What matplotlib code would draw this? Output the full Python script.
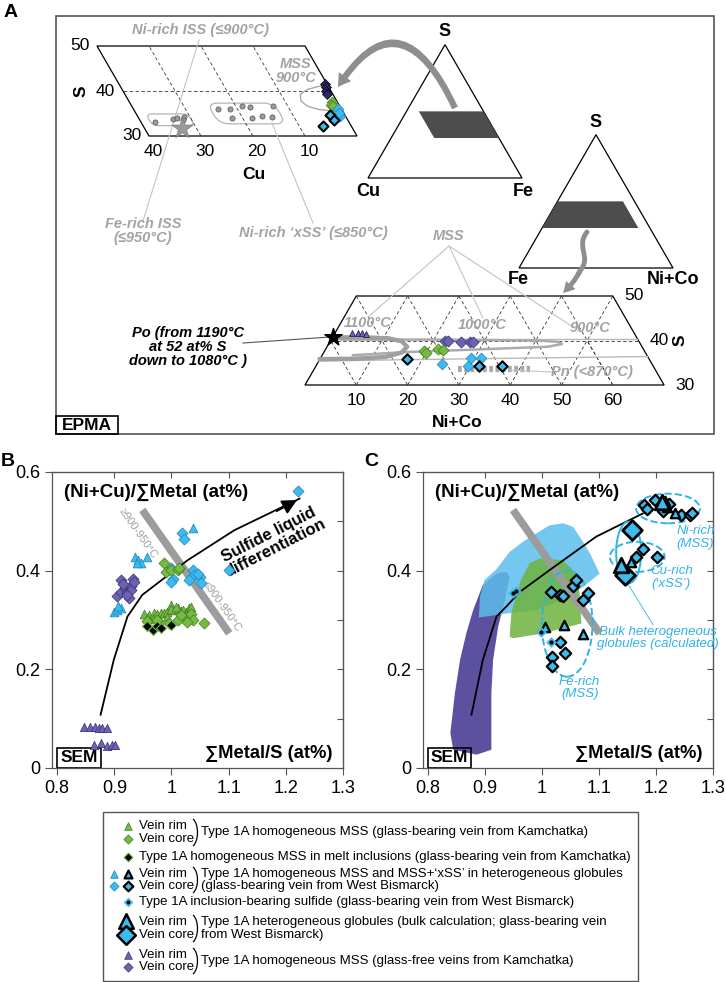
import numpy as np
import matplotlib.pyplot as plt
from matplotlib.transforms import Affine2D
from matplotlib.patches import Polygon, Ellipse, FancyArrowPatch, Rectangle, PathPatch, FancyBboxPatch
from matplotlib.path import Path

plt.rcParams['font.family'] = ['Liberation Sans', 'DejaVu Sans']

# colours
GREEN, GREEN_E = '#76b943', '#3d7d21'
CYAN, CYAN_E = '#3dbaee', '#1b84bd'
PURP, PURP_E = '#6c63ae', '#36307c'
NAVY = '#2a2566'
LBL = '#a3a3a3'
FBLUE = '#2fb3e8'

# ---------------- panel A data (at%) ----------------
# Cu-Fe-S section: Cu, S
iss_cu = [37.2, 33.4, 32.7, 31.1, 31.7]
iss_s = [33.2, 33.8, 33.9, 34.2, 33.6]
iss_star_cu = [32.9]
iss_star_s = [31.7]
xss_cu = [23.7, 21.5, 18.7, 17.4, 12.9, 22.1, 18.2, 16.1, 14.3]
xss_s = [36.0, 35.9, 36.7, 36.4, 36.7, 33.9, 33.9, 34.5, 34.2]
mss900_cu = [0.0, 2.0, 4.5, 6.3, 6.9, 6.2, 4.4, 2.2]
mss900_s = [41.2, 41.0, 40.3, 39.2, 37.8, 36.6, 35.9, 35.6]
a1_navy_cu = [0.3, 0.6, 0.9, 1.2]
a1_navy_s = [41.6, 40.9, 40.1, 39.3]
a1_green_cu = [1.1, 1.5, 1.3]
a1_green_s = [37.6, 37.0, 36.6]
a1_cyan_cu = [0.7, 1.1, 0.9]
a1_cyan_s = [35.9, 34.4, 35.2]
a1_cyanb_cu = [2.8, 2.7, 5.4]
a1_cyanb_s = [34.7, 33.6, 32.2]

# Fe-(Ni+Co)-S section: Ni+Co, S
po_n, po_s = [0.0], [40.8]
a2_navy_n = [3.3, 4.5, 5.3, 6.2]
a2_navy_s = [41.6, 41.7, 41.6, 41.4]
a2_purp_n = [22.3, 22.9, 25.7, 27.4, 27.9]
a2_purp_s = [39.95, 39.95, 39.6, 39.6, 39.6]
a2_green_n = [19.4, 19.9, 21.9, 23.0]
a2_green_s = [37.7, 37.3, 38.2, 37.9]
a2_cyan_n = [24.3, 29.3, 31.3, 29.7]
a2_cyan_s = [34.7, 36.0, 36.0, 34.3]
a2_cyanb_n = [16.9, 31.8, 36.2]
a2_cyanb_s = [35.8, 34.3, 34.3]
pn_n, pn_s = [28.1, 42.1], [33.6, 33.6]
mss1100_n = [0, 6, 11, 14, 15.6, 15.2, 12.5, 7, 0]
mss1100_s = [40.7, 40.7, 40.5, 39.8, 38.6, 37.3, 36.3, 35.9, 35.8]
mss1000_n = [2, 20, 40, 44.5, 45.5, 43, 30, 16, 6]
mss1000_s = [40.2, 40.2, 40.0, 39.7, 39.2, 38.6, 38.0, 37.4, 36.7]
mss900b_n = [0, 30, 59.6]
mss900b_s = [40.4, 40.4, 40.4]
mss900c_n = [0, 30, 63.6]
mss900c_s = [35.4, 35.9, 36.4]

# ---------------- panel B data ----------------
gf_rim_x = [0.847, 0.857, 0.867, 0.873, 0.879, 0.887, 0.864, 0.876, 0.888, 0.896, 0.902]
gf_rim_y = [0.084, 0.084, 0.083, 0.081, 0.082, 0.081, 0.047, 0.051, 0.044, 0.047, 0.047]
gf_core_x = [0.911, 0.932, 0.905, 0.912, 0.918, 0.923, 0.929, 0.926, 0.930, 0.922, 0.935, 0.915]
gf_core_y = [0.381, 0.384, 0.349, 0.357, 0.364, 0.355, 0.369, 0.344, 0.361, 0.351, 0.378, 0.372]
wb_rim_x = [0.899, 0.905, 0.911, 0.906, 0.937, 0.942, 0.946, 0.958, 0.939, 1.037]
wb_rim_y = [0.317, 0.320, 0.324, 0.328, 0.428, 0.421, 0.415, 0.427, 0.415, 0.486]
wb_core_x = [1.019, 1.022, 0.999, 1.002, 0.999, 1.037, 1.040, 1.049, 1.051, 1.031, 1.046, 1.101, 1.221]
wb_core_y = [0.477, 0.464, 0.405, 0.384, 0.378, 0.401, 0.391, 0.388, 0.374, 0.381, 0.393, 0.401, 0.562]
kam_rim_x = [0.952, 0.961, 0.970, 0.975, 0.981, 0.987, 0.993, 0.999, 1.005, 1.011, 1.016,
             1.021, 1.025, 1.031, 1.034, 0.967, 0.978, 0.993, 0.958, 1.000, 1.008]
kam_rim_y = [0.312, 0.310, 0.314, 0.312, 0.315, 0.315, 0.317, 0.330, 0.320, 0.324, 0.319,
             0.320, 0.317, 0.324, 0.327, 0.303, 0.301, 0.307, 0.305, 0.322, 0.326]
kam_core_x = [0.987, 0.990, 0.999, 1.011, 1.014, 1.025, 1.034, 1.037, 1.028, 1.057, 1.011,
              1.016, 0.958, 0.975, 0.996]
kam_core_y = [0.415, 0.398, 0.401, 0.401, 0.405, 0.307, 0.312, 0.300, 0.295, 0.293, 0.300,
              0.310, 0.297, 0.301, 0.293]
kam_mi_x = [0.958, 0.967, 0.975, 0.981, 0.999]
kam_mi_y = [0.287, 0.280, 0.288, 0.283, 0.289]
trend_x = [0.876, 0.899, 0.923, 0.949, 0.975, 1.028, 1.110, 1.224]
trend_y = [0.108, 0.219, 0.307, 0.351, 0.374, 0.421, 0.482, 0.546]
bar_x = [0.949, 1.101]
bar_y = [0.523, 0.273]

# ---------------- panel C data ----------------
c_trend_x = [0.876, 0.896, 0.920, 0.937, 0.961, 1.013, 1.095, 1.177]
c_trend_y = [0.108, 0.219, 0.307, 0.327, 0.357, 0.401, 0.469, 0.516]
c_core_x = [1.015, 1.031, 1.037, 1.054, 1.060, 1.072, 1.081, 1.031, 1.018, 1.018, 1.040,
            1.179, 1.185, 1.199, 1.208, 1.212, 1.222, 1.244, 1.259, 1.264, 1.178, 1.164, 1.202]
c_core_y = [0.357, 0.351, 0.349, 0.369, 0.381, 0.341, 0.354, 0.256, 0.226, 0.206, 0.233,
            0.533, 0.524, 0.544, 0.533, 0.521, 0.536, 0.512, 0.512, 0.517, 0.443, 0.428, 0.427]
c_rim_x = [1.006, 1.039, 1.072, 1.215, 1.233, 1.219, 1.156]
c_rim_y = [0.285, 0.289, 0.272, 0.541, 0.516, 0.529, 0.418]
c_incl_x = [0.998, 1.015, 0.949, 0.955]
c_incl_y = [0.275, 0.256, 0.354, 0.359]
bulk_core_x, bulk_core_y = [1.158, 1.145], [0.482, 0.391]
bulk_rim_x, bulk_rim_y = [1.139, 1.210], [0.411, 0.540]
gf_field_x = [0.839, 0.847, 0.856, 0.867, 0.879, 0.896, 0.920, 0.937, 0.943, 0.935, 0.923,
              0.914, 0.911, 0.911, 0.885, 0.844]
gf_field_y = [0.071, 0.152, 0.219, 0.273, 0.320, 0.371, 0.394, 0.398, 0.388, 0.341, 0.287,
              0.219, 0.152, 0.037, 0.027, 0.037]
wb_field_x = [0.889, 0.891, 0.899, 0.920, 0.943, 0.967, 1.013, 1.037, 1.054, 1.066, 1.084,
              1.101, 1.072, 1.037, 0.990, 0.943]
wb_field_y = [0.305, 0.347, 0.381, 0.403, 0.438, 0.459, 0.492, 0.496, 0.489, 0.469, 0.435,
              0.394, 0.367, 0.341, 0.320, 0.314]
kam_field_x = [0.943, 0.946, 0.963, 0.978, 0.996, 1.037, 1.060, 1.066, 1.069, 1.049, 1.002, 0.949]
kam_field_y = [0.266, 0.314, 0.381, 0.415, 0.425, 0.421, 0.394, 0.354, 0.293, 0.287, 0.273, 0.263]

fig = plt.figure(figsize=(7.26, 9.82), dpi=100)

# ---------- overlay in pixel units for panel A and the legend ----------
ov = fig.add_axes([0, 0, 1, 1])
ov.set_xlim(0, 726)
ov.set_ylim(982, 0)
ov.axis('off')

T1 = Affine2D(np.array([[-5.2, -2.6, 435.0], [0, -4.5, 271.0], [0, 0, 1]])) + ov.transData
T2 = Affine2D(np.array([[5.13, 2.565, 228.05], [0, -4.45, 518.5], [0, 0, 1]])) + ov.transData
TR1 = Affine2D(np.array([[1.54, 0.77, 368.0], [0, -1.333, 178.0], [0, 0, 1]])) + ov.transData
TR2 = Affine2D(np.array([[1.54, 0.77, 519.0], [0, -1.333, 268.0], [0, 0, 1]])) + ov.transData

ov.add_patch(Rectangle((56, 16), 658, 418, fill=False, ec='#555555', lw=1.2))
ov.text(4, 12, 'A', fontsize=14, fontweight='bold', va='center')
ov.text(1, 462, 'B', fontsize=14, fontweight='bold', va='center')
ov.text(364, 462, 'C', fontsize=14, fontweight='bold', va='center')
ov.add_patch(Rectangle((56, 416), 62, 18, fill=False, ec='black', lw=1.2))
ov.text(87, 426, 'EPMA', fontsize=12.5, fontweight='bold', ha='center', va='center')

# full ternaries
for T, corners, shade in [(TR1, [(0, 0), (100, 0), (0, 100)], [(8, 50), (50, 50), (70, 30), (28, 30)]),
                          (TR2, [(0, 0), (100, 0), (0, 100)], [(0, 50), (42.5, 50), (62.5, 30), (0, 30)])]:
    ov.add_patch(Polygon(corners, closed=True, fill=False, ec='black', lw=0.9, transform=T))
    ov.add_patch(Polygon(shade, closed=True, fc='#4d4d4d', ec='none', transform=T))
ov.text(445, 31, 'S', fontsize=13, fontweight='bold', ha='center', va='center')
ov.text(368, 191, 'Cu', fontsize=13, fontweight='bold', ha='center', va='center')
ov.text(523, 191, 'Fe', fontsize=13, fontweight='bold', ha='center', va='center')
ov.text(596, 122, 'S', fontsize=13, fontweight='bold', ha='center', va='center')
ov.text(518, 280, 'Fe', fontsize=13, fontweight='bold', ha='center', va='center')
ov.text(673, 280, 'Ni+Co', fontsize=13, fontweight='bold', ha='center', va='center')

# Cu-S section
ov.add_patch(Polygon([(0, 30), (40, 30), (40, 50), (0, 50)], closed=True, fill=False,
                     ec='black', lw=0.9, transform=T1))
for c in [10, 20, 30]:
    ov.plot([c, c], [30, 50], ls=(0, (4, 3)), color='#333333', lw=0.6, transform=T1)
ov.plot([0, 40], [40, 40], ls=(0, (4, 3)), color='#333333', lw=0.6, transform=T1)
for c in [10, 20, 30, 40]:
    ov.text(*T1.transform((c + 1, 26.5)), str(c), transform=None, fontsize=12.5,
            ha='center', va='center')
for s in [30, 40, 50]:
    ov.text(*T1.transform((41.5, s)), str(s), transform=None, fontsize=12.5, ha='right', va='center')
ov.text(*T1.transform((24, 21.5)), 'Cu', transform=None, fontsize=12.5, fontweight='bold',
        ha='center', va='center')
ov.text(*T1.transform((48, 40)), 'S', transform=None, fontsize=12.5, fontweight='bold',
        ha='center', va='center', rotation=90)
ov.add_patch(FancyBboxPatch((30.0, 32.3), 8.2, 2.6, boxstyle='round,pad=0,rounding_size=1.2',
                            fill=False, ec='#b5b5b5', lw=0.9, transform=T1))
ov.add_patch(FancyBboxPatch((12.3, 32.7), 12.9, 4.6, boxstyle='round,pad=0,rounding_size=2.0',
                            fill=False, ec='#b5b5b5', lw=0.9, transform=T1))
ov.plot(mss900_cu, mss900_s, color='#a8a8a8', lw=1.0, transform=T1)
ov.scatter(iss_cu, iss_s, s=14, c='#9a9a9a', ec='#555555', lw=0.5, transform=T1, zorder=3)
ov.scatter(xss_cu, xss_s, s=14, c='#9a9a9a', ec='#555555', lw=0.5, transform=T1, zorder=3)
ov.scatter(iss_star_cu, iss_star_s, s=260, marker='*', c='#9a9a9a', ec='#7a7a7a', lw=0.5,
           transform=T1, zorder=4)
ov.scatter(a1_navy_cu, a1_navy_s, s=26, marker='D', c=NAVY, ec='black', lw=0.5, transform=T1, zorder=4)
ov.scatter(a1_green_cu, a1_green_s, s=30, marker='D', c=GREEN, ec=GREEN_E, lw=0.5, transform=T1, zorder=4)
ov.scatter(a1_cyan_cu, a1_cyan_s, s=30, marker='D', c=CYAN, ec=CYAN_E, lw=0.5, transform=T1, zorder=4)
ov.scatter(a1_cyanb_cu, a1_cyanb_s, s=26, marker='D', c=CYAN, ec='black', lw=1.5, transform=T1, zorder=4)

# Fe-(Ni+Co)-S section
ov.add_patch(Polygon([(0, 30), (70, 30), (50, 50), (0, 50)], closed=True, fill=False,
                     ec='black', lw=0.9, transform=T2))
for n in range(10, 70, 10):
    ov.plot([n, min(n, 50)], [30, 30 + min(20, 70 - n)],
            ls=(0, (4, 3)), color='#333333', lw=0.6, transform=T2)
for f in range(10, 70, 10):
    top_n = max(50 - f, 0)
    ov.plot([70 - f, top_n], [30, 100 - f - top_n], ls=(0, (4, 3)), color='#333333', lw=0.6, transform=T2)
ov.plot([0, 60], [40, 40], ls=(0, (4, 3)), color='#333333', lw=0.6, transform=T2)
for n in range(10, 70, 10):
    ov.text(*T2.transform((n + 1.75, 26.5)), str(n), transform=None, fontsize=12.5,
            ha='center', va='center')
for s in [30, 40, 50]:
    ov.text(*T2.transform((101 - s + 1.2, s)), str(s), transform=None, fontsize=12.5,
            ha='left', va='center')
ov.text(*T2.transform((34, 21.5)), 'Ni+Co', transform=None, fontsize=12.5, fontweight='bold',
        ha='center', va='center')
ov.text(*T2.transform((68.2, 40)), 'S', transform=None, fontsize=12.5, fontweight='bold',
        ha='center', va='center', rotation=90)
ov.plot(mss900b_n, mss900b_s, color='#b9b9b9', lw=1.0, transform=T2)
ov.plot(mss900c_n, mss900c_s, color='#b9b9b9', lw=1.0, transform=T2)
ov.plot(mss1000_n, mss1000_s, color='#ababab', lw=1.8, transform=T2)
ov.plot(mss1100_n, mss1100_s, color='#9f9f9f', lw=3.2, transform=T2)
ov.plot(pn_n, pn_s, color='#a8a8a8', lw=4.5, ls=(0, (0.6, 0.4)), transform=T2)
ov.scatter(a2_navy_n, a2_navy_s, s=18, marker='^', c=PURP, ec=NAVY, lw=0.6, transform=T2, zorder=4)
ov.scatter(a2_purp_n, a2_purp_s, s=32, marker='D', c=PURP, ec=PURP_E, lw=0.5, transform=T2, zorder=4)
ov.scatter(a2_green_n, a2_green_s, s=32, marker='D', c=GREEN, ec=GREEN_E, lw=0.5, transform=T2, zorder=4)
ov.scatter(a2_cyan_n, a2_cyan_s, s=30, marker='D', c=CYAN, ec=CYAN_E, lw=0.5, transform=T2, zorder=4)
ov.scatter(a2_cyanb_n, a2_cyanb_s, s=28, marker='D', c=CYAN, ec='black', lw=1.5, transform=T2, zorder=4)
ov.scatter(po_n, po_s, s=170, marker='*', c='black', transform=T2, zorder=5)

# grey labels and leader lines
gkw = dict(color=LBL, fontsize=10.5, fontweight='bold', fontstyle='italic', ha='center', va='center')
ov.text(200, 30, 'Ni-rich ISS (≤900°C)', **gkw)
ov.text(143, 231, 'Fe-rich ISS\n(≤950°C)', linespacing=1.05, **gkw)
ov.text(313, 233, "Ni-rich ‘xSS’ (≤850°C)", **gkw)
ov.text(296, 71, 'MSS\n900°C', linespacing=1.0, **gkw)
ov.text(449, 236, 'MSS', **gkw)
ov.text(*T2.transform((5.3, 43.9)), '1100°C', transform=None, **gkw)
ov.text(*T2.transform((27.9, 43.5)), '1000°C', transform=None, **gkw)
ov.text(*T2.transform((49.2, 42.8)), '900°C', transform=None, **gkw)
ov.text(*T2.transform((54.5, 32.9)), 'Pn (<870°C)', transform=None, **gkw)
for (x0, y0), (x1, y1) in [((199, 40), (143, 221)), ((272, 123), (313, 223)),
                           ((449, 246), (368, 317)), ((449, 246), (483, 318)),
                           ((449, 246), (573, 327))]:
    ov.plot([x0, x1], [y0, y1], color='#c4c4c4', lw=0.8)
ov.plot([243, 330], [343, 337], color='#555555', lw=0.8)
ov.plot([508, 552], [370, 372], color='#c4c4c4', lw=0.8)
ov.text(188, 347, 'Po (from 1190°C\nat 52 at% S\ndown to 1080°C )', fontsize=10.5,
        fontweight='bold', fontstyle='italic', ha='center', va='center', linespacing=1.0)

# grey arrows between diagrams
p1 = Path([(455, 108), (400, -10), (338, 87)], [Path.MOVETO, Path.CURVE3, Path.CURVE3])
ov.add_patch(FancyArrowPatch(path=p1, arrowstyle='simple,head_length=9,head_width=11,tail_width=4.5',
                             color='#8e8e8e', lw=0))
p2 = Path([(587, 232), (576, 246), (590, 256), (582, 268), (578, 274)],
          [Path.MOVETO, Path.CURVE4, Path.CURVE4, Path.CURVE4, Path.LINETO])
ov.add_patch(PathPatch(p2, fill=False, ec='#8e8e8e', lw=3.5, capstyle='round'))
p3 = Path([(580, 271), (574, 283), (563, 293)], [Path.MOVETO, Path.CURVE3, Path.CURVE3])
ov.add_patch(FancyArrowPatch(path=p3, arrowstyle='simple,head_length=8,head_width=9,tail_width=3.5',
                             color='#8e8e8e', lw=0))


# ---------- panels B and C ----------
def frame(ax):
    ax.set_xlim(0.791, 1.3)
    ax.set_ylim(0, 0.6)
    ax.set_xticks([0.8, 0.9, 1.0, 1.1, 1.2, 1.3])
    ax.set_xticklabels(['0.8', '0.9', '1', '1.1', '1.2', '1.3'])
    ax.set_yticks([0, 0.2, 0.4, 0.6])
    ax.set_yticklabels(['0', '0.2', '0.4', '0.6'])
    ax.tick_params(labelsize=13, length=5, width=0.8, direction='out', color='#555555')
    for sp in ax.spines.values():
        sp.set_color('#555555')
        sp.set_linewidth(0.9)
    r = ax.secondary_yaxis('right')
    r.set_yticks(np.arange(0.1, 0.6, 0.1))
    r.tick_params(direction='in', length=4, labelright=False, color='#555555')
    t = ax.secondary_xaxis('top')
    t.set_xticks([0.9, 1.0, 1.1, 1.2])
    t.tick_params(direction='in', length=4, labeltop=False, color='#555555')
    ax.text(0.04, 0.93, '(Ni+Cu)/∑Metal (at%)', transform=ax.transAxes, fontsize=13.5,
            fontweight='bold', va='center')
    ax.text(0.965, 0.05, '∑Metal/S (at%)', transform=ax.transAxes, fontsize=13.2,
            fontweight='bold', va='center', ha='right')
    ax.add_patch(Rectangle((0.017, 0.0), 0.15, 0.068, transform=ax.transAxes, fill=False,
                           ec='black', lw=1.2, clip_on=False))
    ax.text(0.092, 0.034, 'SEM', transform=ax.transAxes, fontsize=12.5, fontweight='bold',
            ha='center', va='center')
    ax.plot(bar_x, bar_y, color='#9c9c9c', lw=5.5, solid_capstyle='butt', zorder=1)


axB = fig.add_axes([52 / 726, 1 - 768 / 982, 291 / 726, 296 / 982])
frame(axB)
axB.plot(trend_x, trend_y, color='black', lw=1.3, zorder=2)
axB.annotate('', xy=(trend_x[-1], trend_y[-1]), xytext=(trend_x[-2] + 0.07, trend_y[-2] + 0.036),
             arrowprops=dict(arrowstyle='-|>,head_length=0.9,head_width=0.45', color='black', lw=1.3))
axB.text(0.942, 0.475, '≥900-950°C', rotation=-55, fontsize=8, color='#a0a0a0', ha='center', va='center')
axB.text(1.088, 0.327, '≤900-950°C', rotation=-55, fontsize=8, color='#a0a0a0', ha='center', va='center')
axB.text(1.176, 0.459, 'Sulfide liquid\ndifferentiation', rotation=27, fontsize=12,
         fontweight='bold', ha='center', va='center', linespacing=1.0)
axB.scatter(gf_rim_x, gf_rim_y, s=36, marker='^', c=PURP, ec=PURP_E, lw=0.5, zorder=3)
axB.scatter(gf_core_x, gf_core_y, s=32, marker='D', c=PURP, ec=PURP_E, lw=0.5, zorder=3)
axB.scatter(wb_rim_x, wb_rim_y, s=40, marker='^', c=CYAN, ec=CYAN_E, lw=0.5, zorder=3)
axB.scatter(wb_core_x, wb_core_y, s=32, marker='D', c=CYAN, ec=CYAN_E, lw=0.5, zorder=3)
axB.scatter(kam_rim_x, kam_rim_y, s=40, marker='^', c=GREEN, ec=GREEN_E, lw=0.5, zorder=3)
axB.scatter(kam_core_x, kam_core_y, s=32, marker='D', c=GREEN, ec=GREEN_E, lw=0.5, zorder=3)
axB.scatter(kam_mi_x, kam_mi_y, s=26, marker='D', c='black', ec=GREEN, lw=0.8, zorder=4)

axC = fig.add_axes([423 / 726, 1 - 768 / 982, 290 / 726, 296 / 982])
frame(axC)
axC.add_patch(Polygon(np.column_stack([gf_field_x, gf_field_y]), closed=True, fc='#5c519f',
                      ec='none', zorder=0.5))
axC.add_patch(Polygon(np.column_stack([wb_field_x, wb_field_y]), closed=True, fc='#5cbdec',
                      ec='none', alpha=0.85, zorder=0.6))
axC.add_patch(Polygon(np.column_stack([kam_field_x, kam_field_y]), closed=True, fc='#6db33d',
                      ec='none', alpha=0.85, zorder=0.7))
axC.plot(c_trend_x, c_trend_y, color='black', lw=1.3, zorder=2)
for (cx, cy), w, h, ls in [((1.044, 0.293), 0.089, 0.216, '--'), ((1.221, 0.526), 0.112, 0.06, '--'),
                           ((1.167, 0.428), 0.096, 0.061, '--'), ((1.152, 0.437), 0.044, 0.125, '-')]:
    axC.add_patch(Ellipse((cx, cy), w, h, fill=False, ec=FBLUE, lw=1.4, ls=ls, zorder=2.5))
axC.plot([1.148, 1.195], [0.378, 0.290], color=FBLUE, lw=0.6)
bkw = dict(color=FBLUE, fontsize=9.5, fontstyle='italic', ha='center', va='center', linespacing=1.05)
axC.text(1.269, 0.467, 'Ni-rich\n(MSS)', **bkw)
axC.text(1.227, 0.386, "Cu-rich\n(‘xSS’)", **bkw)
axC.text(1.203, 0.263, 'Bulk heterogeneous\nglobules (calculated)', **bkw)
axC.text(1.066, 0.162, 'Fe-rich\n(MSS)', **bkw)
axC.scatter(c_core_x, c_core_y, s=34, marker='D', c=CYAN, ec='black', lw=1.6, zorder=3)
axC.scatter(c_rim_x, c_rim_y, s=46, marker='^', c=CYAN, ec='black', lw=1.6, zorder=3)
axC.scatter(c_incl_x, c_incl_y, s=24, marker='D', c=CYAN, ec=CYAN, lw=0.5, zorder=3)
axC.scatter(c_incl_x, c_incl_y, s=4, marker='o', c='black', zorder=3.1)
axC.scatter(bulk_core_x, bulk_core_y, s=100, marker='D', c=CYAN, ec='black', lw=2, zorder=3.2)
axC.scatter(bulk_rim_x, bulk_rim_y, s=110, marker='^', c=CYAN, ec='black', lw=2, zorder=3.2)

# ---------- legend (pixel overlay) ----------
ov.add_patch(Rectangle((103, 812), 535, 169, fill=False, ec='#555555', lw=1.0))
lkw = dict(fontsize=9.5, va='center')
xm, xm2, xt, xb, xmain = 128, 114, 139, 193, 201


def pair(y_rim, y_core, main_lines):
    ov.text(xt, y_rim, 'Vein rim', **lkw)
    ov.text(xt, y_core, 'Vein core', **lkw)
    brace = Path([(xb, y_rim - 7), (xb + 6, y_rim - 2), (xb + 6, y_core + 2), (xb, y_core + 7)],
                 [Path.MOVETO, Path.CURVE4, Path.CURVE4, Path.CURVE4])
    ov.add_patch(PathPatch(brace, fill=False, ec='black', lw=0.9))
    if len(main_lines) == 1:
        ov.text(xmain, (y_rim + y_core) / 2, main_lines[0], **lkw)
    else:
        ov.text(xmain, y_rim, main_lines[0], **lkw)
        ov.text(xmain, y_core, main_lines[1], **lkw)


pair(826, 839, ['Type 1A homogeneous MSS (glass-bearing vein from Kamchatka)'])
ov.scatter([xm], [826], s=30, marker='^', c=GREEN, ec=GREEN_E, lw=0.5)
ov.scatter([xm], [839], s=22, marker='D', c=GREEN, ec=GREEN_E, lw=0.5)
ov.scatter([xm], [857], s=20, marker='D', c='black', ec=GREEN, lw=0.8)
ov.text(xt, 857, 'Type 1A homogeneous MSS in melt inclusions (glass-bearing vein from Kamchatka)', **lkw)
pair(874, 886, ["Type 1A homogeneous MSS and MSS+‘xSS’ in heterogeneous globules",
                '(glass-bearing vein from West Bismarck)'])
ov.scatter([xm2], [874], s=30, marker='^', c=CYAN, ec=CYAN_E, lw=0.5)
ov.scatter([xm2], [886], s=22, marker='D', c=CYAN, ec=CYAN_E, lw=0.5)
ov.scatter([xm], [874], s=32, marker='^', c=CYAN, ec='black', lw=1.6)
ov.scatter([xm], [886], s=24, marker='D', c=CYAN, ec='black', lw=1.6)
ov.scatter([xm], [902], s=20, marker='D', c=CYAN, ec=CYAN, lw=0.5)
ov.scatter([xm], [902], s=3, marker='o', c='black')
ov.text(xt, 902, 'Type 1A inclusion-bearing sulfide (glass-bearing vein from West Bismarck)', **lkw)
pair(922, 935, ['Type 1A heterogeneous globules (bulk calculation; glass-bearing vein',
                'from West Bismarck)'])
ov.scatter([xm - 2], [921], s=110, marker='^', c=CYAN, ec='black', lw=1.8)
ov.scatter([xm - 2], [935], s=90, marker='D', c=CYAN, ec='black', lw=1.8)
pair(955, 967, ['Type 1A homogeneous MSS (glass-free veins from Kamchatka)'])
ov.scatter([xm], [955], s=30, marker='^', c=PURP, ec=PURP_E, lw=0.5)
ov.scatter([xm], [967], s=22, marker='D', c=PURP, ec=PURP_E, lw=0.5)

fig.savefig('out.png', dpi=100)
